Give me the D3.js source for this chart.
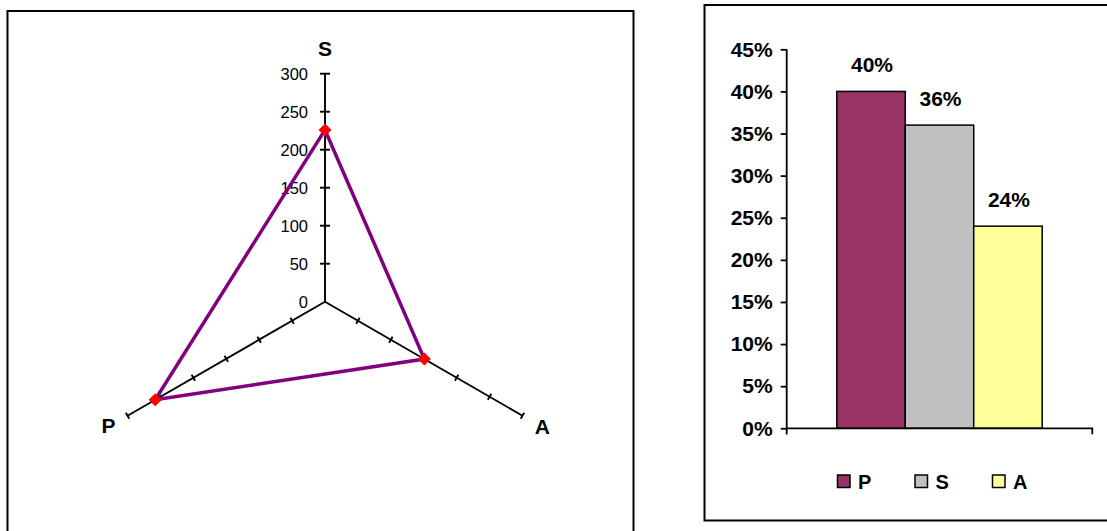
<!DOCTYPE html>
<html><head><meta charset="utf-8">
<script src="https://cdn.jsdelivr.net/npm/d3@7"></script>
<style>body{margin:0;background:#fff}svg{display:block;font-family:Arial,"Liberation Sans",sans-serif}</style>
</head><body>
<svg id="c" width="1107" height="531"></svg>
<script>
// ---- data ----
const radarAxes = ["S", "A", "P"];          // clockwise from top
const radarValues = [226, 151, 258];        // S, A, P
const radarTicks = [0, 50, 100, 150, 200, 250, 300];
const barCategories = ["P", "S", "A"];
const barValues = [0.40, 0.36, 0.24];
const barColors = ["#993366", "#C0C0C0", "#FFFF99"];
const barTicks = [0, 0.05, 0.10, 0.15, 0.20, 0.25, 0.30, 0.35, 0.40, 0.45];

const svg = d3.select("#c");

// ---- panel borders ----
svg.append("rect").attr("x", 7.5).attr("y", 11).attr("width", 626).attr("height", 540)
  .attr("fill", "none").attr("stroke", "#000").attr("stroke-width", 2);
svg.append("rect").attr("x", 704.5).attr("y", 5).attr("width", 420).attr("height", 515.5)
  .attr("fill", "none").attr("stroke", "#000").attr("stroke-width", 2);

// ---- radar chart ----
const cx = 325, cy = 301.7;
const r = d3.scaleLinear().domain([0, 300]).range([0, 228]);
const angle = i => -Math.PI / 2 + i * 2 * Math.PI / radarAxes.length;
const pt = (i, v) => [cx + r(v) * Math.cos(angle(i)), cy + r(v) * Math.sin(angle(i))];

const rg = svg.append("g");
radarAxes.forEach((name, i) => {
  const end = pt(i, 300);
  rg.append("line").attr("x1", cx).attr("y1", cy).attr("x2", end[0]).attr("y2", end[1])
    .attr("stroke", "#000").attr("stroke-width", 1.9);
  const a = angle(i), px = -Math.sin(a), py = Math.cos(a);
  const half = i === 0 ? 5 : 3.5;
  radarTicks.slice(1).forEach(t => {
    const p = pt(i, t);
    rg.append("line").attr("x1", p[0] - px * half).attr("y1", p[1] - py * half)
      .attr("x2", p[0] + px * half).attr("y2", p[1] + py * half)
      .attr("stroke", "#000").attr("stroke-width", 1.9);
  });
});
// value labels on S axis
radarTicks.forEach(t => {
  const p = pt(0, t);
  rg.append("text").attr("x", cx - 17).attr("y", p[1]).attr("dy", "0.36em")
    .attr("text-anchor", "end").attr("font-size", 16.5).attr("fill", "#000").text(t);
});
// data polygon
const poly = radarValues.map((v, i) => pt(i, v));
rg.append("path").attr("d", d3.line()(poly) + "Z")
  .attr("fill", "none").attr("stroke", "#800080").attr("stroke-width", 3.5).attr("stroke-linejoin", "miter");
rg.selectAll(".mk").data(poly).enter().append("path")
  .attr("transform", d => `translate(${d[0]},${d[1]})`)
  .attr("d", "M0,-6.5L6.5,0L0,6.5L-6.5,0Z").attr("fill", "#FF0000");
// axis labels
const labelOff = [[0, -25], [20, 11], [-19, 10]];
radarAxes.forEach((name, i) => {
  const e = pt(i, 300);
  rg.append("text").attr("x", e[0] + labelOff[i][0]).attr("y", e[1] + labelOff[i][1])
    .attr("dy", "0.36em").attr("text-anchor", "middle").attr("font-weight", "bold")
    .attr("font-size", 21).text(name);
});

// ---- bar chart ----
const y = d3.scaleLinear().domain([0, 0.45]).range([428.3, 49.3]);
const x0 = d3.scaleBand().domain([""]).range([786.7, 1092.3]);
const gap = x0.bandwidth() * 0.164;
const x1 = d3.scaleBand().domain(barCategories).range([x0("") + gap, x0("") + x0.bandwidth() - gap]);

const bg = svg.append("g");
const yAxis = bg.append("g").attr("transform", "translate(786.7,0)")
  .call(d3.axisLeft(y).tickValues(barTicks).tickFormat(d3.format(".0%")).tickSize(6).tickPadding(8));
yAxis.select(".domain").attr("d", `M0,${y(0.45)}V434.5`).attr("stroke-width", 1.8);
yAxis.selectAll(".tick line").attr("stroke-width", 1.8);
yAxis.selectAll("text").attr("font-size", 21).attr("font-weight", "bold").attr("fill", "#000")
  .attr("font-family", "Arial, 'Liberation Sans', sans-serif");

bg.selectAll(".bar").data(barValues).enter().append("rect")
  .attr("x", (d, i) => x1(barCategories[i])).attr("width", x1.bandwidth())
  .attr("y", d => y(d)).attr("height", d => y(0) - y(d))
  .attr("fill", (d, i) => barColors[i]).attr("stroke", "#000").attr("stroke-width", 1.5);

const xAxis = bg.append("g").attr("transform", `translate(0,${y(0)})`)
  .call(d3.axisBottom(x0).tickSize(0).tickFormat(""));
xAxis.select(".domain").attr("d", `M786.7,0H1092.3V6`).attr("stroke-width", 1.8);

bg.selectAll(".lbl").data(barValues).enter().append("text")
  .attr("x", (d, i) => x1(barCategories[i]) + x1.bandwidth() / 2 + 1)
  .attr("y", d => y(d) - 19).attr("text-anchor", "middle")
  .attr("font-size", 21).attr("font-weight", "bold").text(d => d3.format(".0%")(d));

// legend
const lg = bg.append("g");
barCategories.forEach((c, i) => {
  const lx = 837.5 + i * 77.5;
  lg.append("rect").attr("x", lx).attr("y", 475).attr("width", 12.5).attr("height", 12.5)
    .attr("fill", barColors[i]).attr("stroke", "#000").attr("stroke-width", 1.5);
  lg.append("text").attr("x", lx + 20.5).attr("y", 488.5).attr("font-size", 20)
    .attr("font-weight", "bold").text(c);
});
</script>
</body></html>
